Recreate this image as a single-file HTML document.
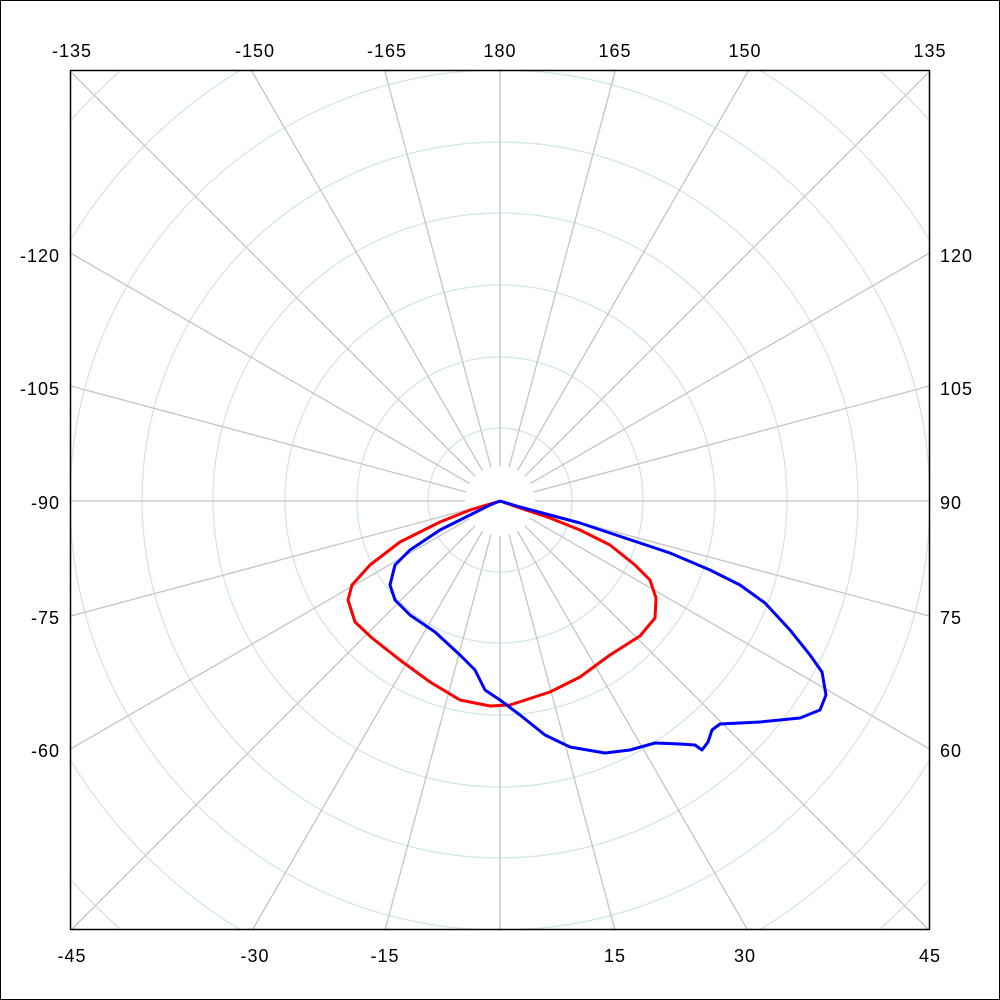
<!DOCTYPE html>
<html><head><style>
html,body{margin:0;padding:0;background:#fff;overflow:hidden;width:1000px;height:1000px}
svg{display:block;position:absolute;left:0;top:0}
text{font-family:"Liberation Sans",sans-serif;font-size:18px;letter-spacing:1px;fill:#000}
</style></head><body>
<svg width="1000" height="1000" viewBox="0 0 1000 1000">
<rect x="0.5" y="0.5" width="999" height="999" fill="#fff" stroke="#000"/>
<defs><clipPath id="c"><rect x="70" y="70" width="860" height="860"/></clipPath></defs>
<g clip-path="url(#c)" fill="none">
<g stroke="#cfe6ec" stroke-width="1.3">
<circle cx="500" cy="500" r="72"/><circle cx="500" cy="500" r="143"/><circle cx="500" cy="500" r="215"/><circle cx="500" cy="500" r="287"/><circle cx="500" cy="500" r="358"/><circle cx="500" cy="500" r="430"/><circle cx="500" cy="500" r="502"/><circle cx="500" cy="500" r="573"/>
</g>
<g stroke="#c4c4c4" stroke-width="1.3" transform="translate(500,501)">
<line x1="-900" y1="0" x2="900" y2="0"/>
<line x1="-900" y1="0" x2="900" y2="0" transform="rotate(15)"/>
<line x1="-900" y1="0" x2="900" y2="0" transform="rotate(30)"/>
<line x1="-900" y1="0" x2="900" y2="0" transform="rotate(45)"/>
<line x1="-900" y1="0" x2="900" y2="0" transform="rotate(60)"/>
<line x1="-900" y1="0" x2="900" y2="0" transform="rotate(75)"/>
<line x1="-900" y1="0" x2="900" y2="0" transform="rotate(90)"/>
<line x1="-900" y1="0" x2="900" y2="0" transform="rotate(105)"/>
<line x1="-900" y1="0" x2="900" y2="0" transform="rotate(120)"/>
<line x1="-900" y1="0" x2="900" y2="0" transform="rotate(135)"/>
<line x1="-900" y1="0" x2="900" y2="0" transform="rotate(150)"/>
<line x1="-900" y1="0" x2="900" y2="0" transform="rotate(165)"/>
</g>
<circle cx="500" cy="501" r="35" fill="#fff" stroke="none"/>
<polyline stroke="#f00" stroke-width="3" stroke-linejoin="round" points="500,501 470,510 440,522 400,542 370,565 352,585 348,600 355,622 372,638 400,660 430,682 460,700 490,706 510,705 550,692 580,677 610,655 640,636 655,618 656,598 650,580 635,565 610,545 580,530 550,518 520,508 500,501"/>
<polyline stroke="#00f" stroke-width="3" stroke-linejoin="round" points="500,501 490,505 470,515 440,530 410,550 395,565 390,585 395,600 410,615 435,632 460,655 475,670 485,690 500,700 520,715 545,735 570,747 605,753 630,750 655,743 680,744 695,745 702,750 708,742 712,730 720,724 760,722 800,718 820,710 826,695 822,672 810,655 790,630 765,603 740,585 710,570 670,553 640,543 610,533 580,523 550,515 520,507 500,501"/>
</g>
<rect x="70.5" y="70.5" width="859" height="859" fill="none" stroke="#000" stroke-width="1.5"/>
<g text-anchor="middle">
<text x="72" y="57">-135</text><text x="255" y="57">-150</text><text x="387" y="57">-165</text><text x="500" y="57">180</text><text x="615" y="57">165</text><text x="745" y="57">150</text><text x="930" y="57">135</text>
<text x="72" y="962">-45</text><text x="255" y="962">-30</text><text x="385" y="962">-15</text><text x="615" y="962">15</text><text x="745" y="962">30</text><text x="930" y="962">45</text>
</g>
<g text-anchor="end">
<text x="60" y="262">-120</text><text x="60" y="395">-105</text><text x="60" y="509">-90</text><text x="60" y="624">-75</text><text x="60" y="757">-60</text>
</g>
<g>
<text x="940" y="262">120</text><text x="940" y="395">105</text><text x="940" y="509">90</text><text x="940" y="624">75</text><text x="940" y="757">60</text>
</g>
</svg>
</body></html>
